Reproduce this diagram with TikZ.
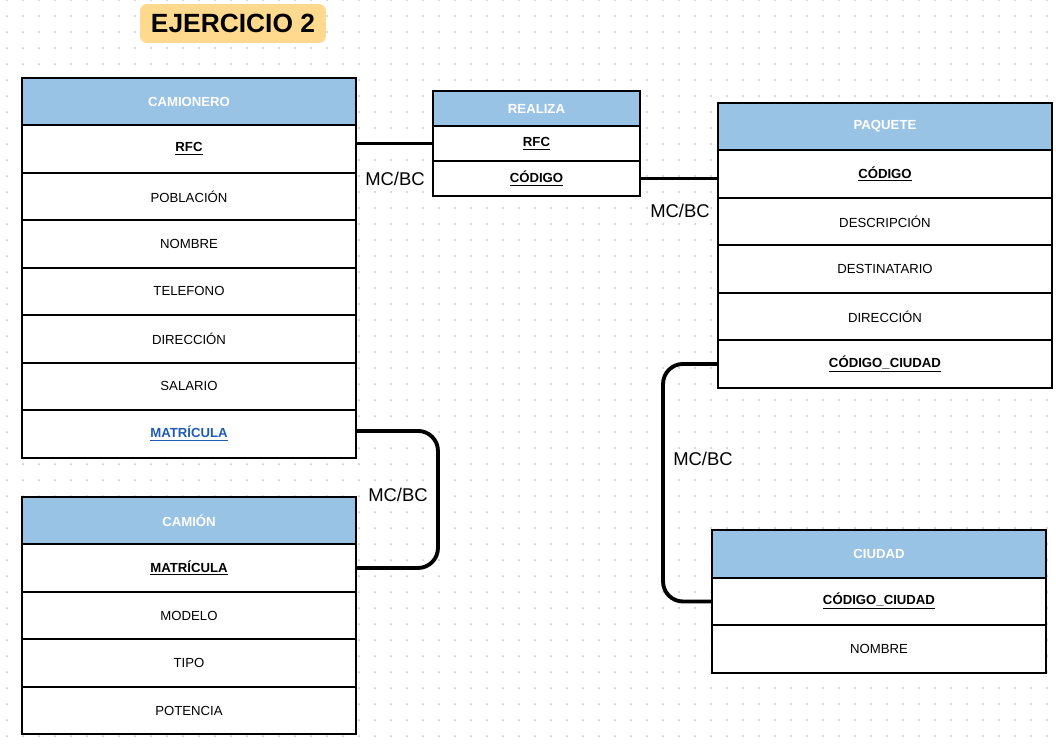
\documentclass[tikz,border=0pt]{standalone}
\usepackage{fontspec}
\setmainfont{Liberation Sans}
\usetikzlibrary{positioning}
\definecolor{cabecera}{HTML}{99C3E5}
\definecolor{amarillo}{HTML}{FFD98E}
\definecolor{enlace}{HTML}{1F5BB5}
\definecolor{punto}{HTML}{C4C4C4}
\tikzset{
    cab/.style={draw, line width=1.1pt, fill=cabecera, text=white, outer sep=0pt,
        font=\fontsize{7.5}{9}\selectfont\bfseries, minimum height=0.95cm},
    fila/.style={draw, line width=1.1pt, fill=white, outer sep=0pt,
        font=\fontsize{7.5}{9}\selectfont, minimum height=0.95cm},
    ancha/.style={minimum width=6.68cm},
    estrecha/.style={minimum width=4.14cm, minimum height=0.7cm},
    rel/.style={line width=2.2pt, rounded corners=0.4cm},
    card/.style={font=\fontsize{10.5}{12}\selectfont, inner sep=1pt}
}
\newcommand{\clave}[1]{\textbf{\underline{#1}}}

\begin{document}
\begin{tikzpicture}[x=0.02cm, y=-0.02cm]
    \useasboundingbox (0,0) rectangle (1056,747);
    \fill[white] (0,0) rectangle (1056,747);
    % fondo de puntos
    \foreach \i in {0,...,65}
        \foreach \j in {0,...,46}
            \fill[punto] (7+16*\i, 16*\j) circle (0.02cm);

    \node[fill=amarillo, rounded corners=0.14cm, minimum width=3.72cm, minimum height=0.78cm,
        font=\fontsize{15}{18}\selectfont\bfseries] (titulo) at (233,23.5) {EJERCICIO 2};

    % CAMIONERO
    \node[cab, ancha] (camionero) at (189,101.5) {CAMIONERO};
    \node[fila, ancha, below=0pt of camionero] (camRFC) {\clave{RFC}};
    \node[fila, ancha, below=0pt of camRFC] (camPob) {POBLACIÓN};
    \node[fila, ancha, below=0pt of camPob] (camNom) {NOMBRE};
    \node[fila, ancha, below=0pt of camNom] (camTel) {TELEFONO};
    \node[fila, ancha, below=0pt of camTel] (camDir) {DIRECCIÓN};
    \node[fila, ancha, below=0pt of camDir] (camSal) {SALARIO};
    \node[fila, ancha, below=0pt of camSal, text=enlace] (camMat) {\clave{MATRÍCULA}};

    % CAMION
    \node[cab, ancha] (camion) at (189,520.5) {CAMIÓN};
    \node[fila, ancha, below=0pt of camion] (camionMat) {\clave{MATRÍCULA}};
    \node[fila, ancha, below=0pt of camionMat] (camionMod) {MODELO};
    \node[fila, ancha, below=0pt of camionMod] (camionTip) {TIPO};
    \node[fila, ancha, below=0pt of camionTip] (camionPot) {POTENCIA};

    % REALIZA
    \node[cab, estrecha] (realiza) at (536.5,108.5) {REALIZA};
    \node[fila, estrecha, below=0pt of realiza] (reaRFC) {\clave{RFC}};
    \node[fila, estrecha, below=0pt of reaRFC] (reaCod) {\clave{CÓDIGO}};

    % PAQUETE
    \node[cab, ancha] (paquete) at (885,126.5) {PAQUETE};
    \node[fila, ancha, below=0pt of paquete] (paqCod) {\clave{CÓDIGO}};
    \node[fila, ancha, below=0pt of paqCod] (paqDes) {DESCRIPCIÓN};
    \node[fila, ancha, below=0pt of paqDes] (paqDst) {DESTINATARIO};
    \node[fila, ancha, below=0pt of paqDst] (paqDir) {DIRECCIÓN};
    \node[fila, ancha, below=0pt of paqDir] (paqCC) {\clave{CÓDIGO\_CIUDAD}};

    % CIUDAD
    \node[cab, ancha] (ciudad) at (879,554) {CIUDAD};
    \node[fila, ancha, below=0pt of ciudad] (ciuCC) {\clave{CÓDIGO\_CIUDAD}};
    \node[fila, ancha, below=0pt of ciuCC] (ciuNom) {NOMBRE};

    % relaciones
    \draw[rel] (reaRFC.west) -- (reaRFC.west -| camRFC.east);
    \draw[rel] (reaCod.east) -- (reaCod.east -| paqCod.west);
    \draw[rel] ([yshift=0.06cm]camMat.east) -- ++(82,0) |- (camionMat.east);
    \draw[rel] (paqCC.west) -- ++(-55,0) |- (ciuCC.west);

    \node[card] (card1) at (395,179) {MC/BC};
    \node[card] (card2) at (680,211) {MC/BC};
    \node[card] (card3) at (398,495) {MC/BC};
    \node[card] (card4) at (703,459) {MC/BC};
\end{tikzpicture}
\end{document}
